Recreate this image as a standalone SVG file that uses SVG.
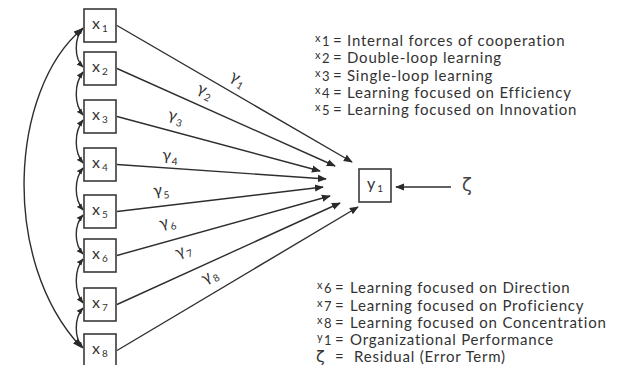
<svg xmlns="http://www.w3.org/2000/svg" width="617" height="365" viewBox="0 0 617 365">
<defs>
<marker id="ah" viewBox="0 0 10 10" refX="9" refY="5" markerWidth="9" markerHeight="9" markerUnits="userSpaceOnUse" orient="auto-start-reverse">
<path d="M0,1 L10,5 L0,9 z" fill="#2a2a2a"/>
</marker>
<marker id="ahs" viewBox="0 0 10 10" refX="9" refY="5" markerWidth="7" markerHeight="7" markerUnits="userSpaceOnUse" orient="auto-start-reverse">
<path d="M0,1 L10,5 L0,9 z" fill="#2a2a2a"/>
</marker>
</defs>
<style>
.box{fill:#fff;stroke:#3a3a3a;stroke-width:1.6}
.lbl{font-family:Lato,"Open Sans",sans-serif;font-size:16px;fill:#333}
.sub{font-size:10px}
.ln{fill:none;stroke:#2e2e2e;stroke-width:1.4}
.g{font-family:Lato,"Open Sans",sans-serif;font-size:16px;fill:#333}
.leg{font-family:Lato,"Open Sans",sans-serif;font-size:15px;fill:#333;letter-spacing:0.8px}
.lx{font-size:11px}
.ld{font-size:13px;letter-spacing:0}
</style>
<rect width="617" height="365" fill="#fff"/>
<g id="connectors">
<path class="ln" marker-end="url(#ah)" d="M117,25.5 L352,162"/>
<path class="ln" marker-end="url(#ah)" d="M117,68.5 L335,166"/>
<path class="ln" marker-end="url(#ah)" d="M117,116.5 L320,171"/>
<path class="ln" marker-end="url(#ah)" d="M117,164.5 L326,179"/>
<path class="ln" marker-end="url(#ah)" d="M117,211.5 L323,187"/>
<path class="ln" marker-end="url(#ah)" d="M117,255.5 L330,196"/>
<path class="ln" marker-end="url(#ah)" d="M117,304.5 L340,203"/>
<path class="ln" marker-end="url(#ah)" d="M117,350.5 L358,207"/>
<path class="ln" marker-end="url(#ah)" d="M451,187 L396,187"/>
<path class="ln" marker-start="url(#ahs)" marker-end="url(#ahs)" d="M83,28 C74,38 74,58 83,67"/>
<path class="ln" marker-start="url(#ahs)" marker-end="url(#ahs)" d="M83,72 C74,84 74,104 83,115"/>
<path class="ln" marker-start="url(#ahs)" marker-end="url(#ahs)" d="M83,120 C74,132 74,152 83,163"/>
<path class="ln" marker-start="url(#ahs)" marker-end="url(#ahs)" d="M83,168 C74,179 74,199 83,210"/>
<path class="ln" marker-start="url(#ahs)" marker-end="url(#ahs)" d="M83,215 C74,225 74,244 83,254"/>
<path class="ln" marker-start="url(#ahs)" marker-end="url(#ahs)" d="M83,259 C74,270 74,291 83,303"/>
<path class="ln" marker-start="url(#ahs)" marker-end="url(#ahs)" d="M83,308 C74,318 74,338 83,348"/>
<path class="ln" marker-start="url(#ah)" marker-end="url(#ah)" d="M82,29 C10,90 0,260 81,347"/>
<text class="g" transform="translate(229,79) rotate(30)">γ<tspan class="sub" dx="1" dy="4">1</tspan></text>
<text class="g" transform="translate(196,92) rotate(24)">γ<tspan class="sub" dx="1" dy="4">2</tspan></text>
<text class="g" transform="translate(167,119) rotate(15)">γ<tspan class="sub" dx="1" dy="4">3</tspan></text>
<text class="g" transform="translate(162,160) rotate(4)">γ<tspan class="sub" dx="1" dy="4">4</tspan></text>
<text class="g" transform="translate(154,196) rotate(-7)">γ<tspan class="sub" dx="1" dy="4">5</tspan></text>
<text class="g" transform="translate(161,229) rotate(-16)">γ<tspan class="sub" dx="1" dy="4">6</tspan></text>
<text class="g" transform="translate(178,258) rotate(-24)">γ<tspan class="sub" dx="1" dy="4">7</tspan></text>
<text class="g" transform="translate(205,284) rotate(-31)">γ<tspan class="sub" dx="1" dy="4">8</tspan></text>
</g>
<g id="x1"><rect class="box" x="84" y="9" width="32" height="33"/><text class="lbl" x="92" y="29">x<tspan class="sub" dx="2" dy="3">1</tspan></text></g>
<g id="x2"><rect class="box" x="84" y="52" width="32" height="33"/><text class="lbl" x="92" y="72">x<tspan class="sub" dx="2" dy="3">2</tspan></text></g>
<g id="x3"><rect class="box" x="84" y="100" width="32" height="33"/><text class="lbl" x="92" y="120">x<tspan class="sub" dx="2" dy="3">3</tspan></text></g>
<g id="x4"><rect class="box" x="84" y="148" width="32" height="33"/><text class="lbl" x="92" y="168">x<tspan class="sub" dx="2" dy="3">4</tspan></text></g>
<g id="x5"><rect class="box" x="84" y="195" width="32" height="33"/><text class="lbl" x="92" y="215">x<tspan class="sub" dx="2" dy="3">5</tspan></text></g>
<g id="x6"><rect class="box" x="84" y="239" width="32" height="33"/><text class="lbl" x="92" y="259">x<tspan class="sub" dx="2" dy="3" font-size="7">6</tspan></text></g>
<g id="x7"><rect class="box" x="84" y="288" width="32" height="33"/><text class="lbl" x="92" y="308">x<tspan class="sub" dx="2" dy="3">7</tspan></text></g>
<g id="x8"><rect class="box" x="84" y="334" width="32" height="33"/><text class="lbl" x="92" y="354">x<tspan class="sub" dx="2" dy="3">8</tspan></text></g>
<g id="y1"><rect class="box" x="359" y="169" width="32" height="33"/><text class="lbl" x="367" y="189">y<tspan class="sub" dx="2" dy="3">1</tspan></text></g>
<g id="zeta"><text x="462" y="191" style="font-family:'DejaVu Sans',sans-serif;font-size:18px;fill:#444">ζ</text></g>
<g id="legend">
<text class="leg" y="46"><tspan class="lx" x="315" dy="-4">x</tspan><tspan class="ld" x="322" dy="4">1</tspan><tspan x="333">=</tspan><tspan x="347">Internal forces of cooperation</tspan></text>
<text class="leg" y="63"><tspan class="lx" x="315" dy="-4">x</tspan><tspan class="ld" x="322" dy="4">2</tspan><tspan x="333">=</tspan><tspan x="347">Double-loop learning</tspan></text>
<text class="leg" y="81"><tspan class="lx" x="315" dy="-4">x</tspan><tspan class="ld" x="322" dy="4">3</tspan><tspan x="333">=</tspan><tspan x="347">Single-loop learning</tspan></text>
<text class="leg" y="98"><tspan class="lx" x="315" dy="-4">x</tspan><tspan class="ld" x="322" dy="4">4</tspan><tspan x="333">=</tspan><tspan x="347">Learning focused on Efficiency</tspan></text>
<text class="leg" y="115"><tspan class="lx" x="315" dy="-4">x</tspan><tspan class="ld" x="322" dy="4">5</tspan><tspan x="333">=</tspan><tspan x="347">Learning focused on Innovation</tspan></text>
<text class="leg" y="293"><tspan class="lx" x="317" dy="-4">x</tspan><tspan class="ld" x="324" dy="4">6</tspan><tspan x="335">=</tspan><tspan x="350">Learning focused on Direction</tspan></text>
<text class="leg" y="311"><tspan class="lx" x="317" dy="-4">x</tspan><tspan class="ld" x="324" dy="4">7</tspan><tspan x="335">=</tspan><tspan x="350">Learning focused on Proficiency</tspan></text>
<text class="leg" y="328"><tspan class="lx" x="317" dy="-4">x</tspan><tspan class="ld" x="324" dy="4">8</tspan><tspan x="335">=</tspan><tspan x="350">Learning focused on Concentration</tspan></text>
<text class="leg" y="345"><tspan class="lx" x="317" dy="-4">y</tspan><tspan class="ld" x="324" dy="4">1</tspan><tspan x="335">=</tspan><tspan x="350">Organizational Performance</tspan></text>
<text class="leg" y="362"><tspan x="316" style="font-family:'DejaVu Sans',sans-serif;font-size:16px">ζ</tspan><tspan x="335">=</tspan><tspan x="354">Residual (Error Term)</tspan></text>
</g>
</svg>
